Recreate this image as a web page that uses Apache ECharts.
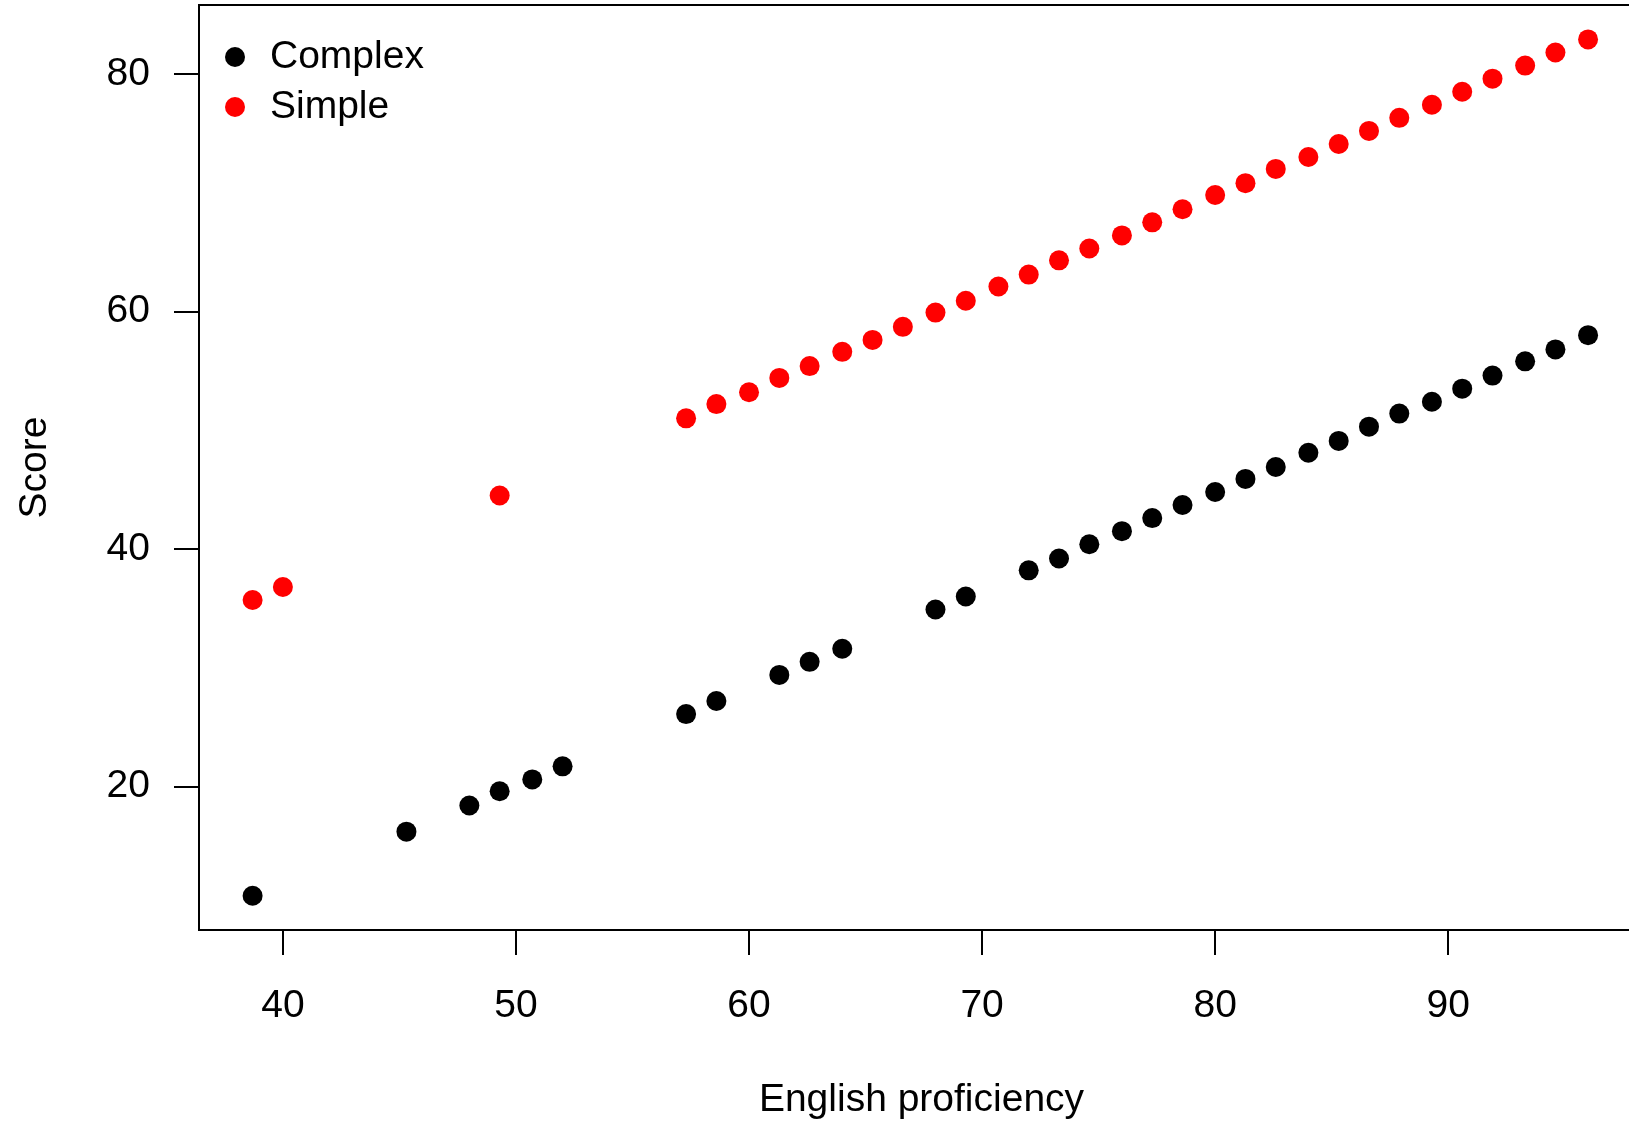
<!DOCTYPE html>
<html>
<head>
<meta charset="utf-8">
<title>Score vs English proficiency</title>
<script src="https://cdn.jsdelivr.net/npm/echarts@6.0.0/dist/echarts.min.js"></script>
<style>
  html, body { margin: 0; padding: 0; background: #fff; }
  #chart { width: 1629px; height: 1124px; }
</style>
</head>
<body>
<div id="chart"></div>
<script>
// data
var complexX = [38.7, 45.3, 48.0, 49.3, 50.7, 52.0, 57.3, 58.6, 61.3, 62.6, 64.0, 68.0, 69.3,
    72.0, 73.3, 74.6, 76.0, 77.3, 78.6, 80.0, 81.3, 82.6, 84.0, 85.3, 86.6, 87.9, 89.3,
    90.6, 91.9, 93.3, 94.6, 96.0];
var complexY = [10.8, 16.2, 18.4, 19.6, 20.6, 21.7, 26.1, 27.2, 29.4, 30.5, 31.6, 34.9, 36.0,
    38.2, 39.2, 40.4, 41.5, 42.6, 43.7, 44.8, 45.9, 46.9, 48.1, 49.1, 50.3, 51.4, 52.4,
    53.5, 54.6, 55.8, 56.8, 58.0];

var simpleX = [38.7, 40.0, 49.3, 57.3, 58.6, 60.0, 61.3, 62.6, 64.0, 65.3, 66.6, 68.0, 69.3,
    70.7, 72.0, 73.3, 74.6, 76.0, 77.3, 78.6, 80.0, 81.3, 82.6, 84.0, 85.3, 86.6, 87.9,
    89.3, 90.6, 91.9, 93.3, 94.6, 96.0];
var simpleY = [35.7, 36.8, 44.5, 51.0, 52.2, 53.2, 54.4, 55.4, 56.6, 57.6, 58.7, 59.9, 60.9,
    62.1, 63.1, 64.3, 65.3, 66.4, 67.5, 68.6, 69.8, 70.8, 72.0, 73.0, 74.1, 75.2, 76.3,
    77.4, 78.5, 79.6, 80.7, 81.8, 82.9];

var xTicks = [40, 50, 60, 70, 80, 90];
var yTicks = [20, 40, 60, 80];

function pairs(xs, ys) {
    var out = [];
    xs.forEach(function (x, i) {
        out.push([x, ys[i]]);
    });
    return out;
}

var myChart = echarts.init(document.getElementById('chart'));
var font = 'Liberation Sans, Arial, Helvetica, sans-serif';

var option = {
    backgroundColor: '#fff',
    animation: false,
    textStyle: { fontFamily: font, color: '#000' },
    grid: {
        left: 199, top: 5, width: 1445, height: 925,
        outerBoundsMode: 'none', containLabel: false,
        show: true, borderColor: '#000', borderWidth: 2, backgroundColor: 'transparent'
    },
    legend: {
        left: 225, top: 37, orient: 'vertical', padding: 0,
        icon: 'circle', itemWidth: 20, itemHeight: 20, itemGap: 10,
        textStyle: { fontFamily: font, fontSize: 39, lineHeight: 40, color: '#000', padding: [0, 0, 0, 20] },
        itemStyle: { opacity: 1 },
        data: ['Complex', 'Simple']
    },
    xAxis: {
        type: 'value', min: 36.4, max: 98.4,
        name: 'English proficiency', nameLocation: 'middle', nameGap: 151,
        nameTextStyle: { fontFamily: font, fontSize: 39, color: '#000' },
        axisLine: { show: false },
        splitLine: { show: false },
        axisTick: { show: true, inside: false, length: 25, customValues: xTicks,
            lineStyle: { color: '#000', width: 2 } },
        axisLabel: { customValues: xTicks, margin: 57, fontSize: 39, color: '#000', fontFamily: font }
    },
    yAxis: {
        type: 'value', min: 7.92, max: 85.8,
        name: 'Score', nameLocation: 'middle', nameGap: 144,
        nameTextStyle: { fontFamily: font, fontSize: 39, color: '#000' },
        axisLine: { show: false },
        splitLine: { show: false },
        axisTick: { show: true, inside: false, length: 25, customValues: yTicks,
            lineStyle: { color: '#000', width: 2 } },
        axisLabel: { customValues: yTicks, margin: 49, fontSize: 39, color: '#000', fontFamily: font }
    },
    series: [
        {
            name: 'Complex', type: 'scatter', symbol: 'circle', symbolSize: 20,
            itemStyle: { color: '#000', opacity: 1 },
            data: pairs(complexX, complexY)
        },
        {
            name: 'Simple', type: 'scatter', symbol: 'circle', symbolSize: 20,
            itemStyle: { color: '#ff0000', opacity: 1 },
            data: pairs(simpleX, simpleY)
        }
    ]
};

option && myChart.setOption(option);
</script>
</body>
</html>
